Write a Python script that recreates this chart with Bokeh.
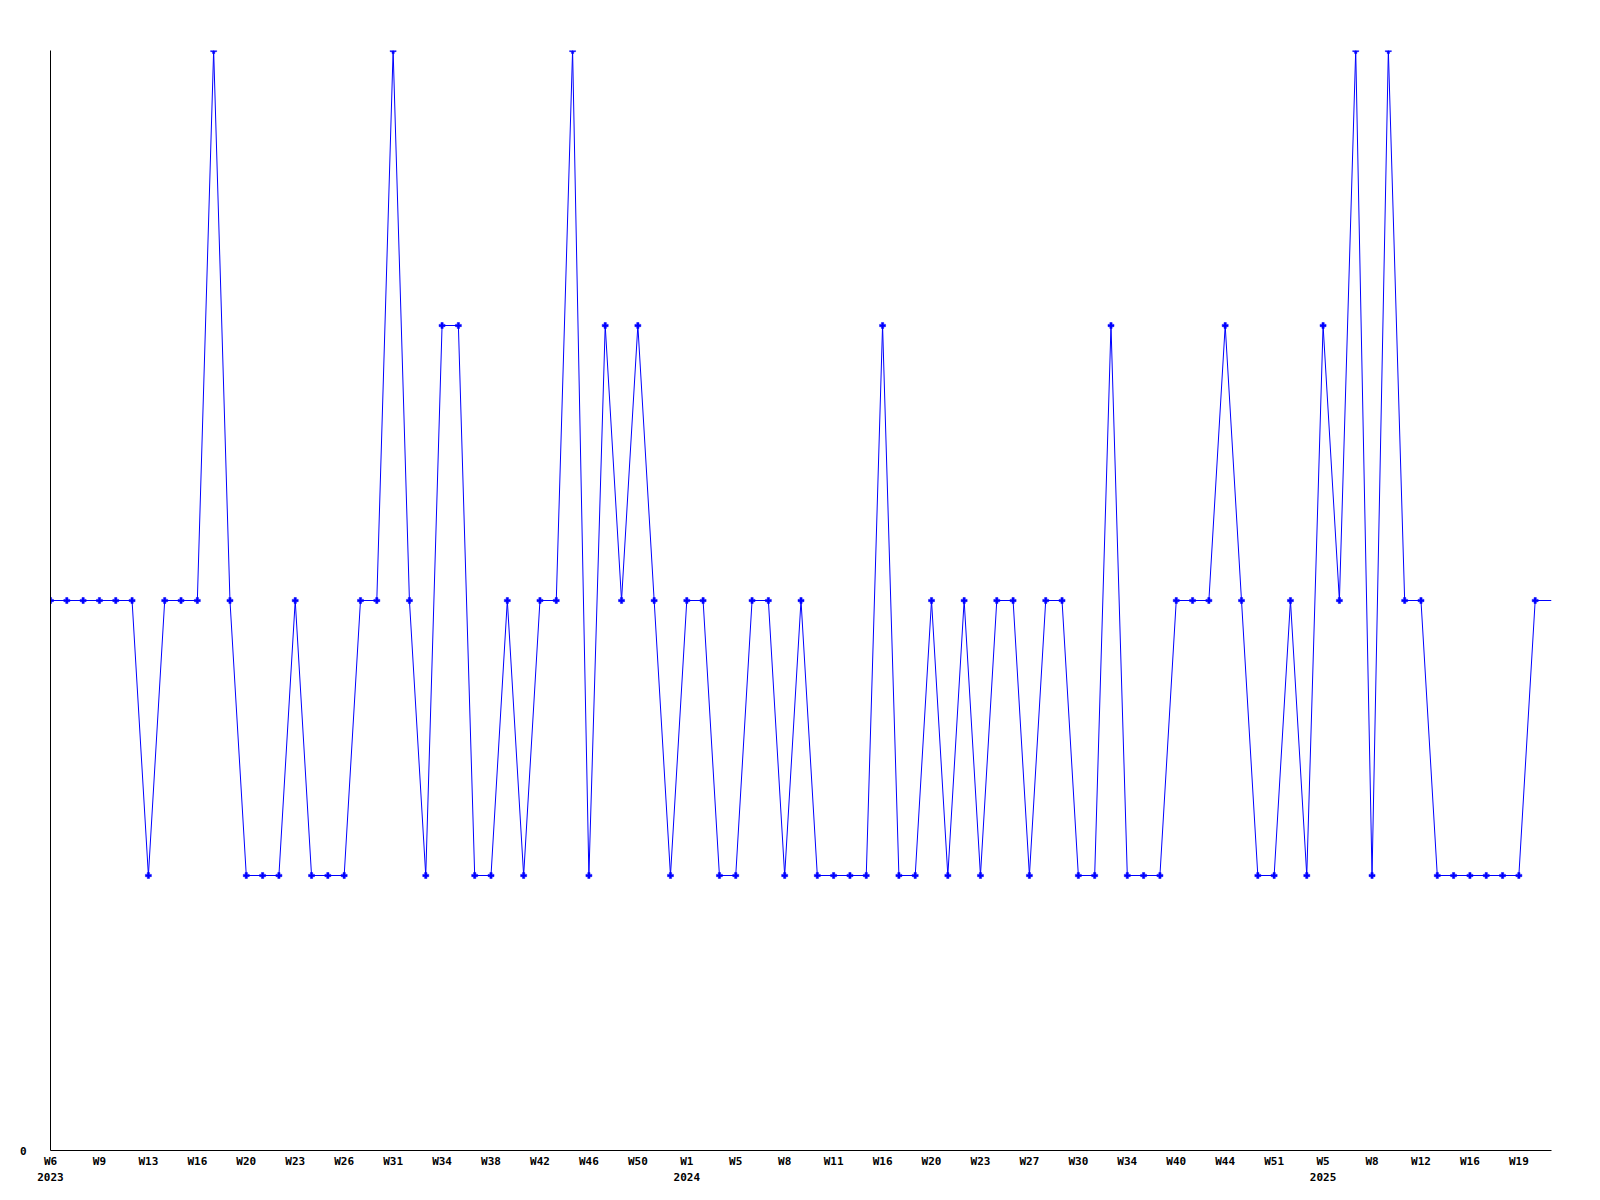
from bokeh.plotting import figure
from bokeh.models import Range1d, FixedTicker
from bokeh.embed import file_html
from bokeh.resources import INLINE

# weekly values (one per point, evenly spaced)
values = [2, 2, 2, 2, 2, 2, 1, 2, 2, 2,
          4, 2, 1, 1, 1, 2, 1, 1, 1, 2,
          2, 4, 2, 1, 3, 3, 1, 1, 2, 1,
          2, 2, 4, 1, 3, 2, 3, 2, 1, 2,
          2, 1, 1, 2, 2, 1, 2, 1, 1, 1,
          1, 3, 1, 1, 2, 1, 2, 1, 2, 2,
          1, 2, 2, 1, 1, 3, 1, 1, 1, 2,
          2, 2, 3, 2, 1, 1, 2, 1, 3, 2,
          4, 1, 4, 2, 2, 1, 1, 1, 1, 1,
          1, 2]
# unmarked trailing (current) value that the line runs on to
current_value = 2

tick_labels = ["W6\n2023", "W9", "W13", "W16", "W20", "W23", "W26", "W31", "W34",
               "W38", "W42", "W46", "W50", "W1\n2024", "W5", "W8", "W11", "W16",
               "W20", "W23", "W27", "W30", "W34", "W40", "W44", "W51", "W5\n2025",
               "W8", "W12", "W16", "W19"]
tick_step = 3

n = len(values)
xs = list(range(n))
line_x = xs + [n]
line_y = values + [current_value]
ticks = [i * tick_step for i in range(len(tick_labels))]

p = figure(frame_width=1501, frame_height=1100,
           x_range=Range1d(0, n), y_range=Range1d(0, 4),
           output_backend="svg", toolbar_location=None,
           min_border_left=50, min_border_top=50, min_border_right=40,
           min_border_bottom=40)
p.outline_line_color = None
p.background_fill_color = "white"
p.border_fill_color = "white"
p.xgrid.visible = False
p.ygrid.visible = False

p.line(line_x, line_y, line_color="#0000FF", line_width=1)
p.scatter(xs, values, marker="plus", size=6, fill_color="#0000FF",
          line_color="#0000FF", line_width=0.5)

font = "DejaVu Sans Mono"
xa = p.xaxis[0]
xa.ticker = FixedTicker(ticks=ticks)
xa.major_label_overrides = {t: lab for t, lab in zip(ticks, tick_labels)}
xa.major_tick_in = 0
xa.major_tick_out = 0
xa.minor_tick_in = 0
xa.minor_tick_out = 0
xa.major_label_standoff = 4
xa.axis_line_color = "black"
xa.axis_line_width = 1
xa.major_label_text_font = font
xa.major_label_text_font_style = "bold"
xa.major_label_text_font_size = "11px"
xa.major_label_text_color = "black"
xa.major_label_text_line_height = 1.25

ya = p.yaxis[0]
ya.ticker = FixedTicker(ticks=[0])
ya.major_tick_in = 0
ya.major_tick_out = 0
ya.minor_tick_in = 0
ya.minor_tick_out = 0
ya.major_label_standoff = 24
ya.axis_line_color = "black"
ya.major_label_text_font = font
ya.major_label_text_font_style = "bold"
ya.major_label_text_font_size = "11px"
ya.major_label_text_color = "black"

open("out.html", "w").write(file_html(p, INLINE))
